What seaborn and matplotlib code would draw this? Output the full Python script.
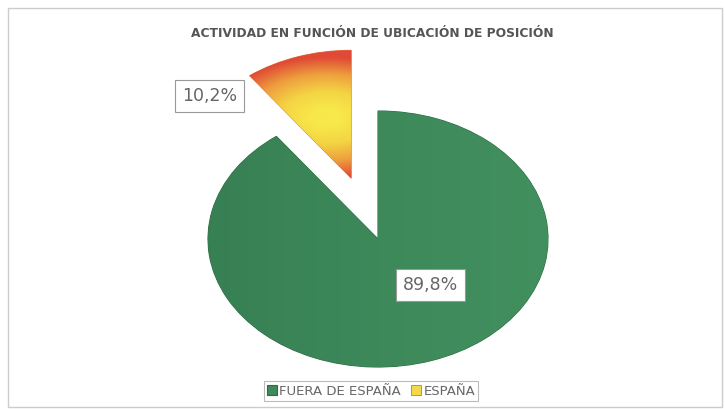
import numpy as np
import matplotlib
matplotlib.use("Agg")
import matplotlib.pyplot as plt
import seaborn as sns
from matplotlib.colors import LinearSegmentedColormap
from matplotlib.patches import Rectangle

sns.set_theme(style="white")
plt.rcParams["font.family"] = ["DejaVu Sans"]

# Data
categories = ["FUERA DE ESPAÑA", "ESPAÑA"]
shares = [89.8, 10.2]
pct_labels = ["89,8%", "10,2%"]
colors = ["#3d8a5a", "#f2d84a"]
explode = [0, 0.5]
title = "ACTIVIDAD EN FUNCIÓN DE UBICACIÓN DE POSICIÓN"

fig = plt.figure(figsize=(7.25, 4.09), dpi=100)
ax = fig.add_axes([0, 0, 1, 1])

wedges, _ = ax.pie(shares, colors=colors, explode=explode, startangle=90,
                   counterclock=False,
                   wedgeprops=dict(edgecolor="#2f6b45", linewidth=0.8))
wedges[1].set_edgecolor("#d9703a")
wedges[1].set_linewidth(0.6)

# elliptical pie: unequal axis scaling
ax.set_aspect("auto")
ax.set_xlim(-378 / 170, (725 - 378) / 170)
ax.set_ylim(-(409 - 239) / 128, 239 / 128)
ax.axis("off")

# gradient fill for the exploded slice
cmap = LinearSegmentedColormap.from_list("yr", ["#f8e84a", "#f4d443", "#eea03e", "#e04a36"])
gx, gy = np.meshgrid(np.linspace(-1.2, 0.2, 200), np.linspace(0.4, 1.6, 200))
cx, cy = -0.3, 0.95
dist = np.sqrt(((gx - cx) / 0.6) ** 2 + ((gy - cy) / 0.45) ** 2)
img = ax.imshow(dist, cmap=cmap, vmin=0.15, vmax=1.05, extent=(-1.2, 0.2, 0.4, 1.6),
                origin="lower", aspect="auto", zorder=wedges[1].get_zorder() + 0.1)
img.set_clip_path(wedges[1])

# subtle shading on the main slice
gg = np.linspace(0, 1, 200)[None, :] * np.ones((200, 1))
gcmap = LinearSegmentedColormap.from_list("gg", ["#377f53", "#3d895a", "#43905f"])
gimg = ax.imshow(gg, cmap=gcmap, extent=(-1.1, 1.1, -1.1, 1.1), origin="lower",
                 aspect="auto", zorder=wedges[0].get_zorder() + 0.1)
gimg.set_clip_path(wedges[0])

# percentage labels in white boxes
label_pos = [(0.31, -0.36), (-0.99, 1.12)]
for txt, (lx, ly) in zip(pct_labels, label_pos):
    ax.text(lx, ly, txt, ha="center", va="center", fontsize=12.5, color="#666666",
            zorder=10,
            bbox=dict(boxstyle="square,pad=0.4", facecolor="white",
                      edgecolor="#999999", linewidth=0.8))

fig.text(0.513, 0.918, title, ha="center", va="center", fontsize=8.8,
         fontweight="bold", color="#555555")

leg = ax.legend(wedges, categories, loc="center", bbox_to_anchor=(0.512, 0.044),
                bbox_transform=fig.transFigure, ncol=2, fontsize=9.5, frameon=True,
                fancybox=False, handlelength=0.7, handleheight=0.7,
                handletextpad=0.2, columnspacing=0.8, borderpad=0.25)
leg.get_frame().set_edgecolor("#aaaaaa")
leg.get_frame().set_linewidth(0.8)
for t in leg.get_texts():
    t.set_color("#666666")

# outer chart frame
fig.add_artist(Rectangle((8 / 725, 2 / 409), 714 / 725, 399 / 409, transform=fig.transFigure,
                         fill=False, edgecolor="#cccccc", linewidth=1.0))

fig.savefig("out.png", dpi=100)
